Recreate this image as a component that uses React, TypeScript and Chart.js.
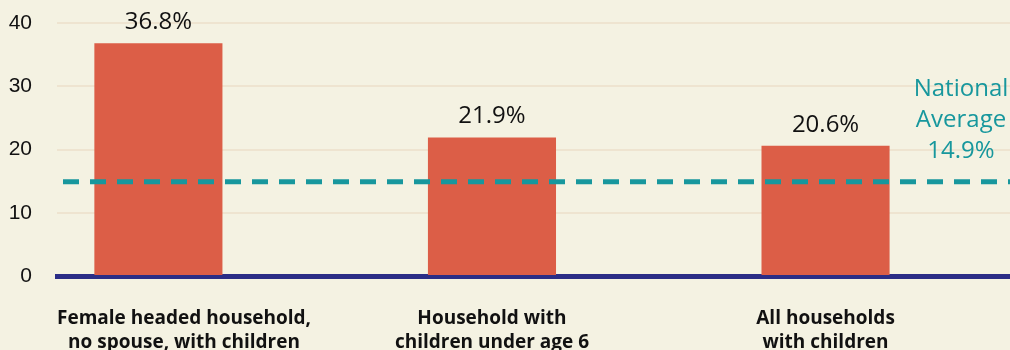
import React, { useEffect, useRef } from "react";
import { Chart, registerables } from "chart.js";

Chart.register(...registerables);

const categories: string[][] = [
  ["Female headed household,", "no spouse, with children"],
  ["Household with", "children under age 6"],
  ["All households", "with children"],
];
const values: number[] = [36.8, 21.9, 20.6];
const valueLabels: string[] = ["36.8%", "21.9%", "20.6%"];
const nationalAverage = 14.9;
const nationalLabel: string[] = ["National", "Average", "14.9%"];
const yTicks: number[] = [0, 10, 20, 30, 40];

const BG = "#F4F2E2";
const BAR = "#DC5E47";
const TEAL = "#17979D";
const NAVY = "#2B2D86";

const overlayPlugin = {
  id: "overlay",
  beforeDraw(chart: any) {
    const { ctx, width, height } = chart;
    ctx.save();
    ctx.fillStyle = BG;
    ctx.fillRect(0, 0, width, height);
    ctx.restore();
  },
  afterDatasetsDraw(chart: any) {
    const { ctx, chartArea } = chart;
    const y = chart.scales.y;
    const x = chart.scales.x;
    const meta = chart.getDatasetMeta(0);
    ctx.save();
    ctx.fillStyle = "#111111";
    ctx.font = "24px 'Open Sans'";
    ctx.textAlign = "center";
    ctx.textBaseline = "middle";
    meta.data.forEach((bar: any, i: number) => {
      ctx.fillText(valueLabels[i], bar.x, bar.y - 21);
    });
    // category labels, kept inside the plot area
    ctx.font = "bold 19px 'Open Sans'";
    categories.forEach((lines, i) => {
      const cx = x.getPixelForValue(i);
      const w = Math.max(...lines.map((l) => ctx.measureText(l).width));
      const px = Math.min(Math.max(cx, chartArea.left + w / 2), chartArea.right - w / 2);
      lines.forEach((l, j) => {
        ctx.fillText(l, px, chartArea.bottom + 43 + j * 24);
      });
    });
    const ay = y.getPixelForValue(nationalAverage);
    ctx.strokeStyle = TEAL;
    ctx.lineWidth = 5;
    ctx.setLineDash([16, 11]);
    ctx.beginPath();
    ctx.moveTo(chartArea.left + 6, ay);
    ctx.lineTo(chartArea.right, ay);
    ctx.stroke();
    ctx.setLineDash([]);
    ctx.fillStyle = TEAL;
    ctx.font = "24px 'Open Sans'";
    const lx = chartArea.right - 49;
    nationalLabel.forEach((t, i) => {
      ctx.fillText(t, lx, ay - 93 + i * 31);
    });
    ctx.restore();
  },
};

export default function App() {
  const ref = useRef<HTMLCanvasElement | null>(null);
  useEffect(() => {
    if (!ref.current) return;
    const chart = new Chart(ref.current, {
      type: "bar",
      data: {
        datasets: [
          {
            data: values.map((v, i) => ({ x: i, y: v })),
            backgroundColor: BAR,
            borderWidth: 0,
            categoryPercentage: 0.8,
            barPercentage: 0.48,
          },
        ],
      },
      options: {
        animation: false,
        responsive: false,
        maintainAspectRatio: false,
        layout: { padding: { top: 23, right: 0, left: 0, bottom: 0 } },
        plugins: {
          legend: { display: false },
          tooltip: { enabled: false },
        },
        scales: {
          x: {
            type: "linear",
            offset: false,
            min: -0.304,
            max: 2.553,
            z: 1,
            afterBuildTicks: (scale: any) => {
              scale.ticks = categories.map((_, i) => ({ value: i }));
            },
            afterFit: (scale: any) => {
              scale.height = 74;
              scale.paddingLeft = 0;
              scale.paddingRight = 0;
            },
            grid: { display: false, drawTicks: false, offset: false },
            border: { display: true, color: NAVY, width: 5 },
            ticks: { display: false },
          },
          y: {
            min: 0,
            max: 40,
            afterBuildTicks: (scale: any) => {
              scale.ticks = yTicks.map((v) => ({ value: v }));
            },
            afterFit: (scale: any) => {
              scale.width = 57;
              scale.paddingTop = 0;
              scale.paddingBottom = 0;
            },
            grid: { color: "#EEE4D0", lineWidth: 2, drawTicks: false },
            border: { display: false },
            ticks: {
              padding: 25,
              color: "#111111",
              font: { family: "'Liberation Sans'", size: 21 },
            },
          },
        },
      },
      plugins: [overlayPlugin],
    } as any);
    return () => chart.destroy();
  }, []);
  return (
    <div style={{ position: "fixed", left: 0, top: 0, width: 1010, height: 350, background: BG }}>
      <canvas ref={ref} width={1010} height={350} style={{ width: 1010, height: 350, display: "block" }} />
    </div>
  );
}
